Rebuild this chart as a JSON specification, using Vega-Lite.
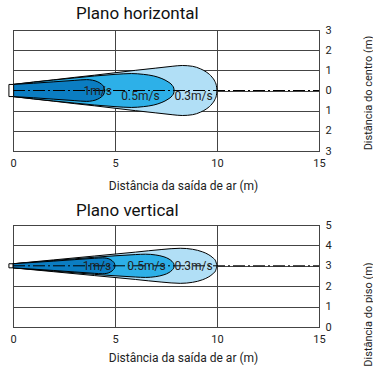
{
  "$schema": "https://vega.github.io/schema/vega-lite/v6.json",
  "padding": {"left": 7, "top": 4, "right": 0, "bottom": 0},
  "spacing": 9,
  "config": {
    "font": "Roboto",
    "view": {"stroke": "black", "strokeWidth": 1},
    "axis": {"grid": true, "gridColor": "#444", "gridOpacity": 1, "gridWidth": 1, "domain": false, "ticks": false, "labelOverlap": false, "labelFlush": false, "labelColor": "#222", "labelFontSize": 11, "titleFontSize": 12, "titleFontWeight": "normal", "titleColor": "#222"},
    "title": {"fontSize": 17, "fontWeight": "normal", "anchor": "start", "frame": "group", "color": "#111"}
  },
  "datasets": {
    "hz": [
      {"v": "0.3", "x": 0, "y": 0.3, "y2": -0.3},
      {"v": "0.3", "x": 1, "y": 0.42, "y2": -0.42},
      {"v": "0.3", "x": 2, "y": 0.53, "y2": -0.53},
      {"v": "0.3", "x": 3, "y": 0.65, "y2": -0.65},
      {"v": "0.3", "x": 4, "y": 0.76, "y2": -0.76},
      {"v": "0.3", "x": 5, "y": 0.88, "y2": -0.88},
      {"v": "0.3", "x": 6, "y": 1.0, "y2": -1.0},
      {"v": "0.3", "x": 7, "y": 1.11, "y2": -1.11},
      {"v": "0.3", "x": 7.8, "y": 1.2, "y2": -1.2},
      {"v": "0.3", "x": 8.3, "y": 1.24, "y2": -1.24},
      {"v": "0.3", "x": 8.8, "y": 1.2, "y2": -1.2},
      {"v": "0.3", "x": 9.2, "y": 1.07, "y2": -1.07},
      {"v": "0.3", "x": 9.5, "y": 0.9, "y2": -0.9},
      {"v": "0.3", "x": 9.75, "y": 0.67, "y2": -0.67},
      {"v": "0.3", "x": 9.9, "y": 0.44, "y2": -0.44},
      {"v": "0.3", "x": 9.97, "y": 0.24, "y2": -0.24},
      {"v": "0.3", "x": 10, "y": 0, "y2": 0},
      {"v": "0.5", "x": 0, "y": 0.3, "y2": -0.3},
      {"v": "0.5", "x": 1, "y": 0.41, "y2": -0.41},
      {"v": "0.5", "x": 2, "y": 0.52, "y2": -0.52},
      {"v": "0.5", "x": 3, "y": 0.62, "y2": -0.62},
      {"v": "0.5", "x": 4, "y": 0.72, "y2": -0.72},
      {"v": "0.5", "x": 5, "y": 0.8, "y2": -0.8},
      {"v": "0.5", "x": 5.8, "y": 0.84, "y2": -0.84},
      {"v": "0.5", "x": 6.4, "y": 0.8, "y2": -0.8},
      {"v": "0.5", "x": 6.9, "y": 0.72, "y2": -0.72},
      {"v": "0.5", "x": 7.3, "y": 0.59, "y2": -0.59},
      {"v": "0.5", "x": 7.6, "y": 0.43, "y2": -0.43},
      {"v": "0.5", "x": 7.8, "y": 0.26, "y2": -0.26},
      {"v": "0.5", "x": 7.88, "y": 0.12, "y2": -0.12},
      {"v": "0.5", "x": 7.9, "y": 0, "y2": 0},
      {"v": "1", "x": 0, "y": 0.3, "y2": -0.3},
      {"v": "1", "x": 1, "y": 0.36, "y2": -0.36},
      {"v": "1", "x": 2, "y": 0.43, "y2": -0.43},
      {"v": "1", "x": 3, "y": 0.5, "y2": -0.5},
      {"v": "1", "x": 3.6, "y": 0.54, "y2": -0.54},
      {"v": "1", "x": 3.9, "y": 0.51, "y2": -0.51},
      {"v": "1", "x": 4.15, "y": 0.43, "y2": -0.43},
      {"v": "1", "x": 4.35, "y": 0.3, "y2": -0.3},
      {"v": "1", "x": 4.45, "y": 0.18, "y2": -0.18},
      {"v": "1", "x": 4.5, "y": 0, "y2": 0}
    ],
    "vt": [
      {"v": "0.3", "x": 0, "y": 3.1, "y2": 2.9},
      {"v": "0.3", "x": 2, "y": 3.29, "y2": 2.71},
      {"v": "0.3", "x": 4, "y": 3.48, "y2": 2.52},
      {"v": "0.3", "x": 6, "y": 3.67, "y2": 2.33},
      {"v": "0.3", "x": 7.3, "y": 3.8, "y2": 2.2},
      {"v": "0.3", "x": 8.2, "y": 3.86, "y2": 2.14},
      {"v": "0.3", "x": 8.8, "y": 3.81, "y2": 2.19},
      {"v": "0.3", "x": 9.3, "y": 3.68, "y2": 2.32},
      {"v": "0.3", "x": 9.6, "y": 3.54, "y2": 2.46},
      {"v": "0.3", "x": 9.8, "y": 3.39, "y2": 2.61},
      {"v": "0.3", "x": 9.93, "y": 3.24, "y2": 2.76},
      {"v": "0.3", "x": 10, "y": 3, "y2": 3},
      {"v": "0.5", "x": 0, "y": 3.1, "y2": 2.9},
      {"v": "0.5", "x": 2, "y": 3.26, "y2": 2.74},
      {"v": "0.5", "x": 4, "y": 3.42, "y2": 2.58},
      {"v": "0.5", "x": 5, "y": 3.49, "y2": 2.51},
      {"v": "0.5", "x": 6, "y": 3.55, "y2": 2.45},
      {"v": "0.5", "x": 6.5, "y": 3.57, "y2": 2.43},
      {"v": "0.5", "x": 7, "y": 3.53, "y2": 2.47},
      {"v": "0.5", "x": 7.4, "y": 3.44, "y2": 2.56},
      {"v": "0.5", "x": 7.65, "y": 3.33, "y2": 2.67},
      {"v": "0.5", "x": 7.8, "y": 3.21, "y2": 2.79},
      {"v": "0.5", "x": 7.88, "y": 3.1, "y2": 2.9},
      {"v": "0.5", "x": 7.9, "y": 3, "y2": 3},
      {"v": "1", "x": 0, "y": 3.1, "y2": 2.9},
      {"v": "1", "x": 2, "y": 3.23, "y2": 2.77},
      {"v": "1", "x": 3, "y": 3.3, "y2": 2.7},
      {"v": "1", "x": 4, "y": 3.37, "y2": 2.63},
      {"v": "1", "x": 4.4, "y": 3.39, "y2": 2.61},
      {"v": "1", "x": 4.6, "y": 3.37, "y2": 2.63},
      {"v": "1", "x": 4.8, "y": 3.29, "y2": 2.71},
      {"v": "1", "x": 4.92, "y": 3.19, "y2": 2.81},
      {"v": "1", "x": 4.98, "y": 3.1, "y2": 2.9},
      {"v": "1", "x": 5, "y": 3, "y2": 3}
    ],
    "hzBox": [{"x": -0.2, "x2": 0.03, "y": -0.3, "y2": 0.3}],
    "vtBox": [{"x": -0.2, "x2": 0.0, "y": 2.9, "y2": 3.1}],
    "hzLine": [{"x": 0, "x2": 15, "y": 0}],
    "vtLine": [{"x": 0, "x2": 15, "y": 3}],
    "hzLab": [
      {"t": "1m/s", "x": 4.15, "y": -0.04},
      {"t": "0.5m/s", "x": 6.25, "y": -0.27},
      {"t": "0.3m/s", "x": 8.85, "y": -0.27}
    ],
    "vtLab": [
      {"t": "1m/s", "x": 4.12, "y": 3},
      {"t": "0.5m/s", "x": 6.54, "y": 3},
      {"t": "0.3m/s", "x": 8.85, "y": 3}
    ]
  },
  "vconcat": [
    {
      "title": {"text": "Plano horizontal", "dx": 63, "offset": 1.5},
      "width": 306,
      "height": 121,
      "encoding": {
        "x": {"field": "x", "type": "quantitative", "scale": {"domain": [0, 15], "nice": false},
              "axis": {"values": [0, 5, 10, 15], "title": "Distância da saída de ar (m)", "labelPadding": 6, "titleX": 170, "titleY": 38, "titleAlign": "center", "titleBaseline": "alphabetic"}},
        "y": {"field": "y", "type": "quantitative", "scale": {"domain": [-3, 3], "nice": false},
              "axis": {"orient": "right", "values": [-3, -2, -1, 0, 1, 2, 3], "labelExpr": "abs(datum.value)", "labelPadding": 6, "title": "Distância do centro (m)", "titleAngle": 270, "titleX": 49, "titleY": 62.5, "titleAlign": "center", "titleBaseline": "middle", "titleFontSize": 11}}
      },
      "layer": [
        {
          "data": {"name": "hz"},
          "transform": [{"filter": "datum.v == '0.3'"}],
          "mark": {"type": "area", "fill": "#b1dff6", "stroke": "black", "strokeWidth": 1, "interpolate": "monotone"},
          "encoding": {"y2": {"field": "y2"}}
        },
        {
          "data": {"name": "hz"},
          "transform": [{"filter": "datum.v == '0.5'"}],
          "mark": {"type": "area", "fill": "#2db0e8", "stroke": "black", "strokeWidth": 1, "interpolate": "monotone"},
          "encoding": {"y2": {"field": "y2"}}
        },
        {
          "data": {"name": "hz"},
          "transform": [{"filter": "datum.v == '1'"}],
          "mark": {"type": "area", "fill": "#0b7dc2", "stroke": "black", "strokeWidth": 1, "interpolate": "monotone"},
          "encoding": {"y2": {"field": "y2"}}
        },
        {
          "data": {"name": "hzBox"},
          "mark": {"type": "rect", "fill": "white", "stroke": "black", "strokeWidth": 1},
          "encoding": {"x2": {"field": "x2"}, "y2": {"field": "y2"}}
        },
        {
          "data": {"name": "hzLine"},
          "mark": {"type": "rule", "color": "black", "strokeWidth": 1, "strokeDash": [12, 3, 2, 3]},
          "encoding": {"x2": {"field": "x2"}}
        },
        {
          "data": {"name": "hzLab"},
          "mark": {"type": "text", "fontSize": 12, "color": "#222", "align": "center", "baseline": "middle"},
          "encoding": {"text": {"field": "t"}}
        }
      ]
    },
    {
      "title": {"text": "Plano vertical", "dx": 63, "offset": -0.5},
      "width": 306,
      "height": 102,
      "encoding": {
        "x": {"field": "x", "type": "quantitative", "scale": {"domain": [0, 15], "nice": false},
              "axis": {"values": [0, 5, 10, 15], "title": "Distância da saída de ar (m)", "labelPadding": 6, "titleX": 170, "titleY": 34, "titleAlign": "center", "titleBaseline": "alphabetic"}},
        "y": {"field": "y", "type": "quantitative", "scale": {"domain": [0, 5], "nice": false},
              "axis": {"orient": "right", "values": [0, 1, 2, 3, 4, 5], "labelPadding": 6, "title": "Distância do piso (m)", "titleAngle": 270, "titleX": 49, "titleY": 89, "titleAlign": "center", "titleBaseline": "middle", "titleFontSize": 11}}
      },
      "layer": [
        {
          "data": {"name": "vt"},
          "transform": [{"filter": "datum.v == '0.3'"}],
          "mark": {"type": "area", "fill": "#b1dff6", "stroke": "black", "strokeWidth": 1, "interpolate": "monotone"},
          "encoding": {"y2": {"field": "y2"}}
        },
        {
          "data": {"name": "vt"},
          "transform": [{"filter": "datum.v == '0.5'"}],
          "mark": {"type": "area", "fill": "#2db0e8", "stroke": "black", "strokeWidth": 1, "interpolate": "monotone"},
          "encoding": {"y2": {"field": "y2"}}
        },
        {
          "data": {"name": "vt"},
          "transform": [{"filter": "datum.v == '1'"}],
          "mark": {"type": "area", "fill": "#0b7dc2", "stroke": "black", "strokeWidth": 1, "interpolate": "monotone"},
          "encoding": {"y2": {"field": "y2"}}
        },
        {
          "data": {"name": "vtBox"},
          "mark": {"type": "rect", "fill": "white", "stroke": "black", "strokeWidth": 1},
          "encoding": {"x2": {"field": "x2"}, "y2": {"field": "y2"}}
        },
        {
          "data": {"name": "vtLine"},
          "mark": {"type": "rule", "color": "black", "strokeWidth": 1, "strokeDash": [12, 3, 2, 3]},
          "encoding": {"x2": {"field": "x2"}}
        },
        {
          "data": {"name": "vtLab"},
          "mark": {"type": "text", "fontSize": 12, "color": "#222", "align": "center", "baseline": "middle"},
          "encoding": {"text": {"field": "t"}}
        }
      ]
    }
  ]
}
